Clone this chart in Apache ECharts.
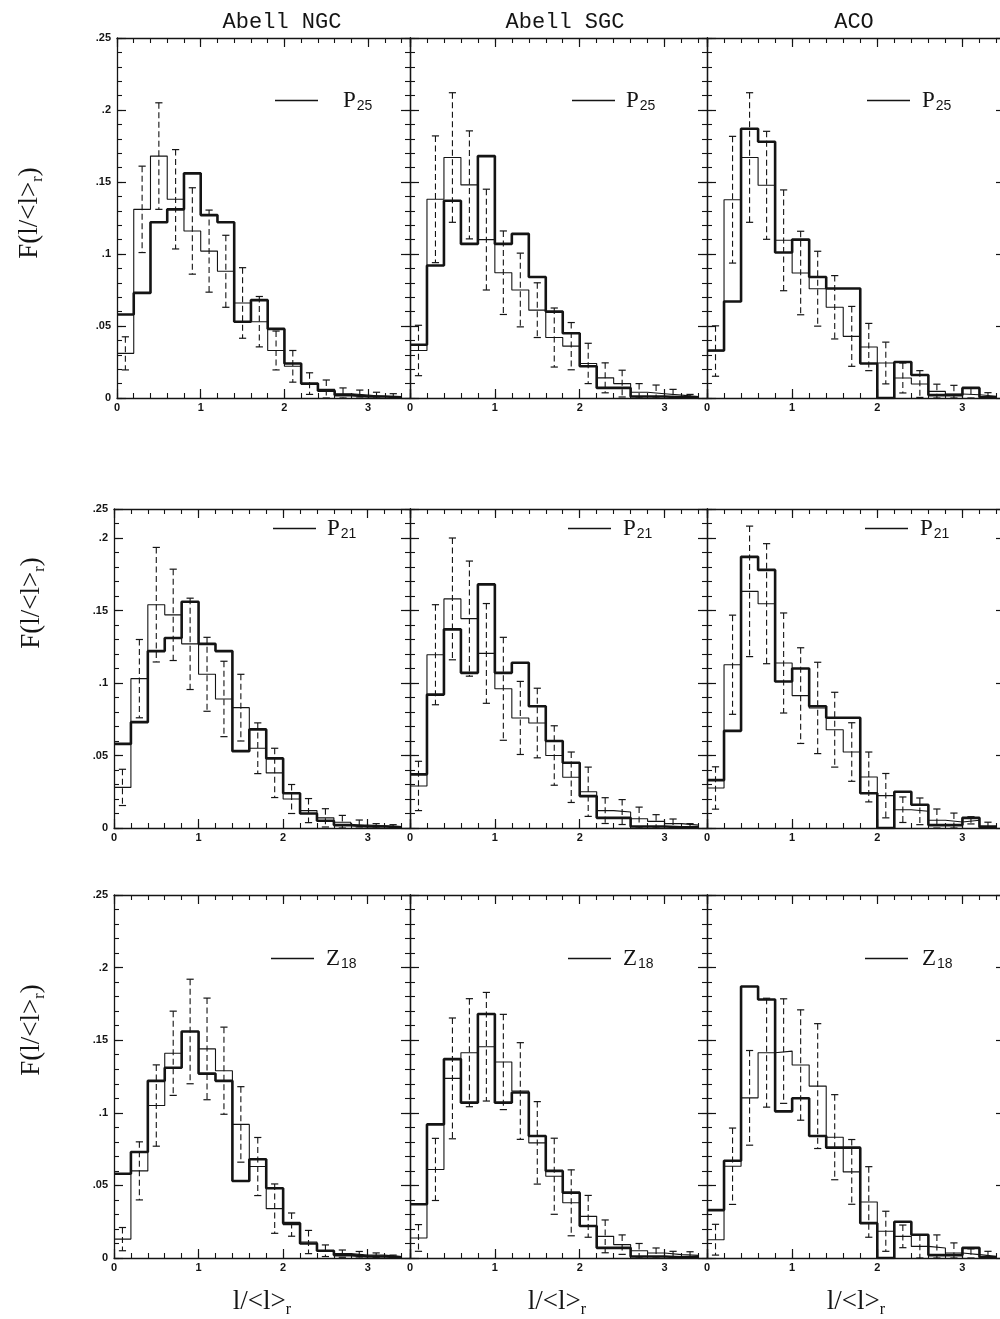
<!DOCTYPE html>
<html>
<head>
<meta charset="utf-8">
<script src="https://cdn.jsdelivr.net/npm/echarts@6/dist/echarts.min.js"></script>
<style>
  html, body { margin: 0; padding: 0; background: #fff; }
  #chart { width: 1000px; height: 1319px; }
</style>
</head>
<body>
<div id="chart"></div>
<script>
// ---- data ------------------------------------------------------------
// left edges of the l/<l>_r bins (width 0.2)
const binStarts = [0, 0.2, 0.4, 0.6, 0.8, 1.0, 1.2, 1.4, 1.6, 1.8, 2.0, 2.2, 2.4, 2.6, 2.8, 3.0, 3.2];
const binEnd = 3.4;

const catalogs = ['Abell NGC', 'Abell SGC', 'ACO'];
const models = ['P25', 'P21', 'Z18'];

const xTickLabels = ['0', '1', '2', '3'];
const yTickLabels = ['0', '.05', '.1', '.15', '.2', '.25'];

// observed distributions (heavy histograms)
const obsNGC = [0.058, 0.073, 0.122, 0.131, 0.156, 0.127, 0.122, 0.053, 0.068, 0.048, 0.024, 0.010, 0.005, 0.002, 0.001, 0.001, 0.0005];
const obsSGC = [0.037, 0.092, 0.137, 0.107, 0.168, 0.107, 0.114, 0.084, 0.060, 0.045, 0.022, 0.007, 0.007, 0.001, 0.001, 0.0005, 0.0005];
const obsACO = [0.033, 0.067, 0.187, 0.178, 0.101, 0.110, 0.084, 0.076, 0.076, 0.024, 0.000, 0.025, 0.016, 0.002, 0.002, 0.007, 0.0005];

// model distributions (light histograms) with their 1-sigma scatter
const p25NGC    = [0.031, 0.131, 0.168, 0.138, 0.116, 0.102, 0.088, 0.066, 0.053, 0.033, 0.022, 0.010, 0.006, 0.003, 0.002, 0.001, 0.001];
const p25NGCerr = [0.0115, 0.030, 0.037, 0.0345, 0.030, 0.0285, 0.025, 0.0245, 0.0175, 0.0135, 0.011, 0.0075, 0.0065, 0.004, 0.0035, 0.003, 0.002];
const p21NGC    = [0.028, 0.103, 0.154, 0.147, 0.127, 0.106, 0.089, 0.083, 0.055, 0.038, 0.020, 0.012, 0.007, 0.004, 0.002, 0.0015, 0.001];
const p21NGCerr = [0.0125, 0.027, 0.0395, 0.0315, 0.0315, 0.0255, 0.026, 0.023, 0.0175, 0.017, 0.010, 0.0083, 0.0063, 0.0047, 0.0035, 0.0015, 0.0013];
const z18NGC    = [0.013, 0.060, 0.105, 0.141, 0.156, 0.144, 0.129, 0.092, 0.063, 0.034, 0.023, 0.011, 0.005, 0.003, 0.002, 0.002, 0.001];
const z18NGCerr = [0.008, 0.020, 0.028, 0.029, 0.036, 0.035, 0.030, 0.026, 0.020, 0.017, 0.008, 0.008, 0.004, 0.0025, 0.0025, 0.0015, 0.001];

const p25SGC    = [0.033, 0.138, 0.167, 0.148, 0.110, 0.087, 0.075, 0.061, 0.042, 0.036, 0.024, 0.014, 0.010, 0.004, 0.003, 0.002, 0.001];
const p25SGCerr = [0.0175, 0.044, 0.045, 0.0375, 0.035, 0.029, 0.0256, 0.019, 0.0205, 0.0164, 0.014, 0.0104, 0.0093, 0.006, 0.006, 0.004, 0.0015];
const p21SGC    = [0.029, 0.1195, 0.158, 0.1444, 0.1204, 0.096, 0.0759, 0.0724, 0.050, 0.035, 0.025, 0.012, 0.011, 0.0064, 0.0046, 0.003, 0.002];
const p21SGCerr = [0.017, 0.0345, 0.042, 0.0397, 0.0344, 0.0355, 0.0252, 0.024, 0.0205, 0.0174, 0.017, 0.0089, 0.0086, 0.008, 0.0046, 0.0032, 0.001];
const z18SGC    = [0.0138, 0.061, 0.1237, 0.1414, 0.1455, 0.135, 0.115, 0.0793, 0.0563, 0.038, 0.0287, 0.0149, 0.0092, 0.005, 0.0034, 0.0023, 0.0018];
const z18SGCerr = [0.0092, 0.0214, 0.0416, 0.0372, 0.0374, 0.0328, 0.0333, 0.0284, 0.0262, 0.0227, 0.0144, 0.0113, 0.0067, 0.005, 0.0035, 0.0023, 0.0025];

const p25ACO    = [0.0326, 0.1377, 0.167, 0.1477, 0.1095, 0.0868, 0.0759, 0.063, 0.0428, 0.0354, 0.0243, 0.0139, 0.0097, 0.0046, 0.0028, 0.0023, 0.0012];
const p25ACOerr = [0.0175, 0.044, 0.045, 0.0375, 0.035, 0.029, 0.026, 0.022, 0.0208, 0.0164, 0.0145, 0.0104, 0.0093, 0.005, 0.006, 0.0045, 0.0025];
const p21ACO    = [0.0276, 0.1126, 0.1632, 0.1547, 0.1138, 0.0913, 0.0828, 0.0678, 0.0524, 0.0352, 0.0223, 0.0126, 0.0115, 0.0053, 0.0041, 0.0053, 0.0016];
const p21ACOerr = [0.0146, 0.0342, 0.045, 0.0414, 0.0345, 0.033, 0.0315, 0.0258, 0.0202, 0.0172, 0.0153, 0.0088, 0.0092, 0.0078, 0.0062, 0.0025, 0.0024];
const z18ACO    = [0.0126, 0.0632, 0.1103, 0.1414, 0.1425, 0.1329, 0.1184, 0.0832, 0.0593, 0.0386, 0.0184, 0.0149, 0.008, 0.0069, 0.0034, 0.0023, 0.0011];
const z18ACOerr = [0.0106, 0.0263, 0.0326, 0.0375, 0.036, 0.038, 0.043, 0.0293, 0.0223, 0.0243, 0.0138, 0.0078, 0.008, 0.009, 0.007, 0.004, 0.0035];

// ---- panel assembly ----------------------------------------------------
const observed = [obsNGC, obsSGC, obsACO];
const modelRuns = [
  [[p25NGC, p25NGCerr], [p25SGC, p25SGCerr], [p25ACO, p25ACOerr]],
  [[p21NGC, p21NGCerr], [p21SGC, p21SGCerr], [p21ACO, p21ACOerr]],
  [[z18NGC, z18NGCerr], [z18SGC, z18SGCerr], [z18ACO, z18ACOerr]]
];

// layout (pixels)
const rowLayout = [
  { top: 38,  height: 360, yMax: 0.25 },
  { top: 509, height: 319, yMax: 0.22 },
  { top: 895, height: 363, yMax: 0.25 }
];
const colLeft = [[117, 410, 707], [114, 410, 707], [114, 410, 707]];
const colRight = [410, 707, 1005];
const legendLeft = [[270, 567, 862], [268, 563, 860], [266, 563, 860]];
const legendGap = [[20, 6, 7], [6, 7, 7], [7, 7, 9]];
const legendMidY = [97, 525, 955];
const titleX = [282, 565, 854];
const yTitlePos = [[30, 213], [32, 603], [32, 1030]];
const xTitleX = [262, 557, 856];

const ink = '#141414';
const tickFont = { fontSize: 11, fontWeight: 'bold', fontFamily: '"Liberation Sans", Arial, sans-serif', color: ink };

function binCenter(i) {
  const next = i + 1 < binStarts.length ? binStarts[i + 1] : binEnd;
  return (binStarts[i] + next) / 2;
}
function stepPoints(vals) {
  const pts = binStarts.map((x, i) => [x, vals[i]]);
  pts.push([binEnd, vals[vals.length - 1]]);
  return pts;
}
function errorPoints(vals, errs) {
  return vals.map((v, i) => [binCenter(i), Math.max(0, v - errs[i]), v + errs[i]]);
}
function near(a, b) { return Math.abs(a - b) < 1e-6; }
function xLabel(v) {
  const k = Math.round(v);
  return near(v, k) && k < xTickLabels.length ? xTickLabels[k] : '';
}
function yLabelFor(yMax) {
  return function (v) {
    if (near(v, yMax)) return yTickLabels[yTickLabels.length - 1];
    const k = Math.round(v / 0.05);
    return near(v, k * 0.05) && k < yTickLabels.length ? yTickLabels[k] : '';
  };
}

function errorBarItem(params, api) {
  const x = api.value(0);
  const top = api.coord([x, api.value(2)]);
  const bot = api.coord([x, api.value(1)]);
  const cap = 3.6;
  return {
    type: 'group',
    children: [
      { type: 'line', shape: { x1: top[0], y1: top[1], x2: bot[0], y2: bot[1] },
        style: { stroke: ink, lineWidth: 1.1, lineDash: [6, 3.5] } },
      { type: 'line', shape: { x1: top[0] - cap, y1: top[1], x2: top[0] + cap, y2: top[1] },
        style: { stroke: ink, lineWidth: 1.2 } },
      { type: 'line', shape: { x1: bot[0] - cap, y1: bot[1], x2: bot[0] + cap, y2: bot[1] },
        style: { stroke: ink, lineWidth: 1.2 } }
    ]
  };
}

const grids = [], xAxes = [], yAxes = [], series = [], legends = [];

rowLayout.forEach((row, r) => {
  for (let c = 0; c < 3; c++) {
    const gi = grids.length;
    const left = colLeft[r][c];
    grids.push({ left: left, top: row.top, width: colRight[c] - left, height: row.height,
                 containLabel: false, outerBoundsMode: 'none' });

    const xi = xAxes.length;
    const lineOn = { show: true, onZero: false, lineStyle: { color: ink, width: 1.3 } };
    const lineOff = { show: false, onZero: false };
    const xBase = { type: 'value', gridIndex: gi, min: 0, max: 3.5, splitLine: { show: false } };
    xAxes.push(
      Object.assign({}, xBase, { position: 'bottom', interval: 1, axisLine: lineOn,
        axisTick: { inside: true, length: 9, lineStyle: { color: ink, width: 1.2 } },
        axisLabel: Object.assign({ margin: 4, formatter: xLabel }, tickFont) }),
      Object.assign({}, xBase, { position: 'bottom', interval: 0.2, axisLine: lineOff,
        axisTick: { inside: true, length: 5, lineStyle: { color: ink, width: 1.1 } },
        axisLabel: { show: false } }),
      Object.assign({}, xBase, { position: 'top', interval: 1, axisLine: lineOn,
        axisTick: { inside: true, length: 9, lineStyle: { color: ink, width: 1.2 } },
        axisLabel: { show: false } }),
      Object.assign({}, xBase, { position: 'top', interval: 0.2, axisLine: lineOff,
        axisTick: { inside: true, length: 5, lineStyle: { color: ink, width: 1.1 } },
        axisLabel: { show: false } })
    );

    const yi = yAxes.length;
    const yBase = { type: 'value', gridIndex: gi, min: 0, max: row.yMax, splitLine: { show: false } };
    yAxes.push(
      Object.assign({}, yBase, { position: 'left', interval: 0.05, axisLine: lineOn,
        axisTick: { inside: true, length: 9, lineStyle: { color: ink, width: 1.2 } },
        axisLabel: Object.assign({ show: c === 0, margin: 6, formatter: yLabelFor(row.yMax) }, tickFont) }),
      Object.assign({}, yBase, { position: 'left', interval: 0.01, axisLine: lineOff,
        axisTick: { inside: true, length: 5, lineStyle: { color: ink, width: 1.1 } },
        axisLabel: { show: false } }),
      Object.assign({}, yBase, { position: 'right', interval: 0.05, axisLine: lineOn,
        axisTick: { inside: true, length: 9, lineStyle: { color: ink, width: 1.2 } },
        axisLabel: { show: false } }),
      Object.assign({}, yBase, { position: 'right', interval: 0.01, axisLine: lineOff,
        axisTick: { inside: true, length: 5, lineStyle: { color: ink, width: 1.1 } },
        axisLabel: { show: false } })
    );

    const run = modelRuns[r][c];
    series.push(
      { type: 'line', name: models[r], xAxisIndex: xi, yAxisIndex: yi, data: stepPoints(run[0]),
        step: 'end', symbol: 'none', clip: true, z: 2, itemStyle: { color: ink },
        lineStyle: { color: ink, width: 1.1 } },
      { type: 'custom', name: models[r] + ' scatter', xAxisIndex: xi, yAxisIndex: yi,
        data: errorPoints(run[0], run[1]), renderItem: errorBarItem, clip: true, z: 3 },
      { type: 'line', name: catalogs[c], xAxisIndex: xi, yAxisIndex: yi, data: stepPoints(observed[c]),
        step: 'end', symbol: 'none', clip: true, z: 4, itemStyle: { color: ink },
        lineStyle: { color: ink, width: 2.6 } }
    );

    legends.push({
      data: [models[r]], left: legendLeft[r][c], top: legendMidY[r] - 13,
      orient: 'horizontal', icon: 'rect', itemWidth: 43, itemHeight: 1.6,
      itemStyle: { color: ink }, selectedMode: false,
      formatter: name => '{p|' + name.charAt(0) + '}{s|' + name.slice(1) + '}',
      textStyle: {
        rich: {
          p: { fontFamily: '"Liberation Serif", "Times New Roman", serif', fontSize: 23,
               lineHeight: 26, color: ink, padding: [0, 0, 0, legendGap[r][c]] },
          s: { fontFamily: '"Liberation Sans", Arial, sans-serif', fontSize: 14,
               lineHeight: 15, verticalAlign: 'bottom', color: ink, padding: [0, 0, 0, 1] }
        }
      }
    });
  }
});

// column headers and axis titles
const graphics = [];
catalogs.forEach((name, c) => {
  graphics.push({ type: 'text', x: titleX[c], y: 22, silent: true,
    style: { text: name, fontFamily: '"Liberation Mono", "Courier New", monospace', fontSize: 22,
             fill: ink, align: 'center', verticalAlign: 'middle' } });
});
const serifRich = {
  m: { fontFamily: '"Liberation Serif", "Times New Roman", serif', fontSize: 27, lineHeight: 32, fill: ink },
  s: { fontFamily: '"Liberation Serif", "Times New Roman", serif', fontSize: 16, lineHeight: 17,
       verticalAlign: 'bottom', fill: ink }
};
yTitlePos.forEach(p => {
  graphics.push({ type: 'text', x: p[0], y: p[1], rotation: Math.PI / 2, silent: true,
    style: { text: '{m|F(l/<l>}{s|r}{m|)}', rich: serifRich, fill: ink,
             align: 'center', verticalAlign: 'middle' } });
});
xTitleX.forEach(x => {
  graphics.push({ type: 'text', x: x, y: 1302, silent: true,
    style: { text: '{m|l/<l>}{s|r}', rich: serifRich, fill: ink,
             align: 'center', verticalAlign: 'middle' } });
});

const chart = echarts.init(document.getElementById('chart'), null, { renderer: 'canvas' });
chart.setOption({
  backgroundColor: '#ffffff',
  animation: false,
  grid: grids,
  xAxis: xAxes,
  yAxis: yAxes,
  legend: legends,
  series: series,
  graphic: graphics
});
</script>
</body>
</html>
